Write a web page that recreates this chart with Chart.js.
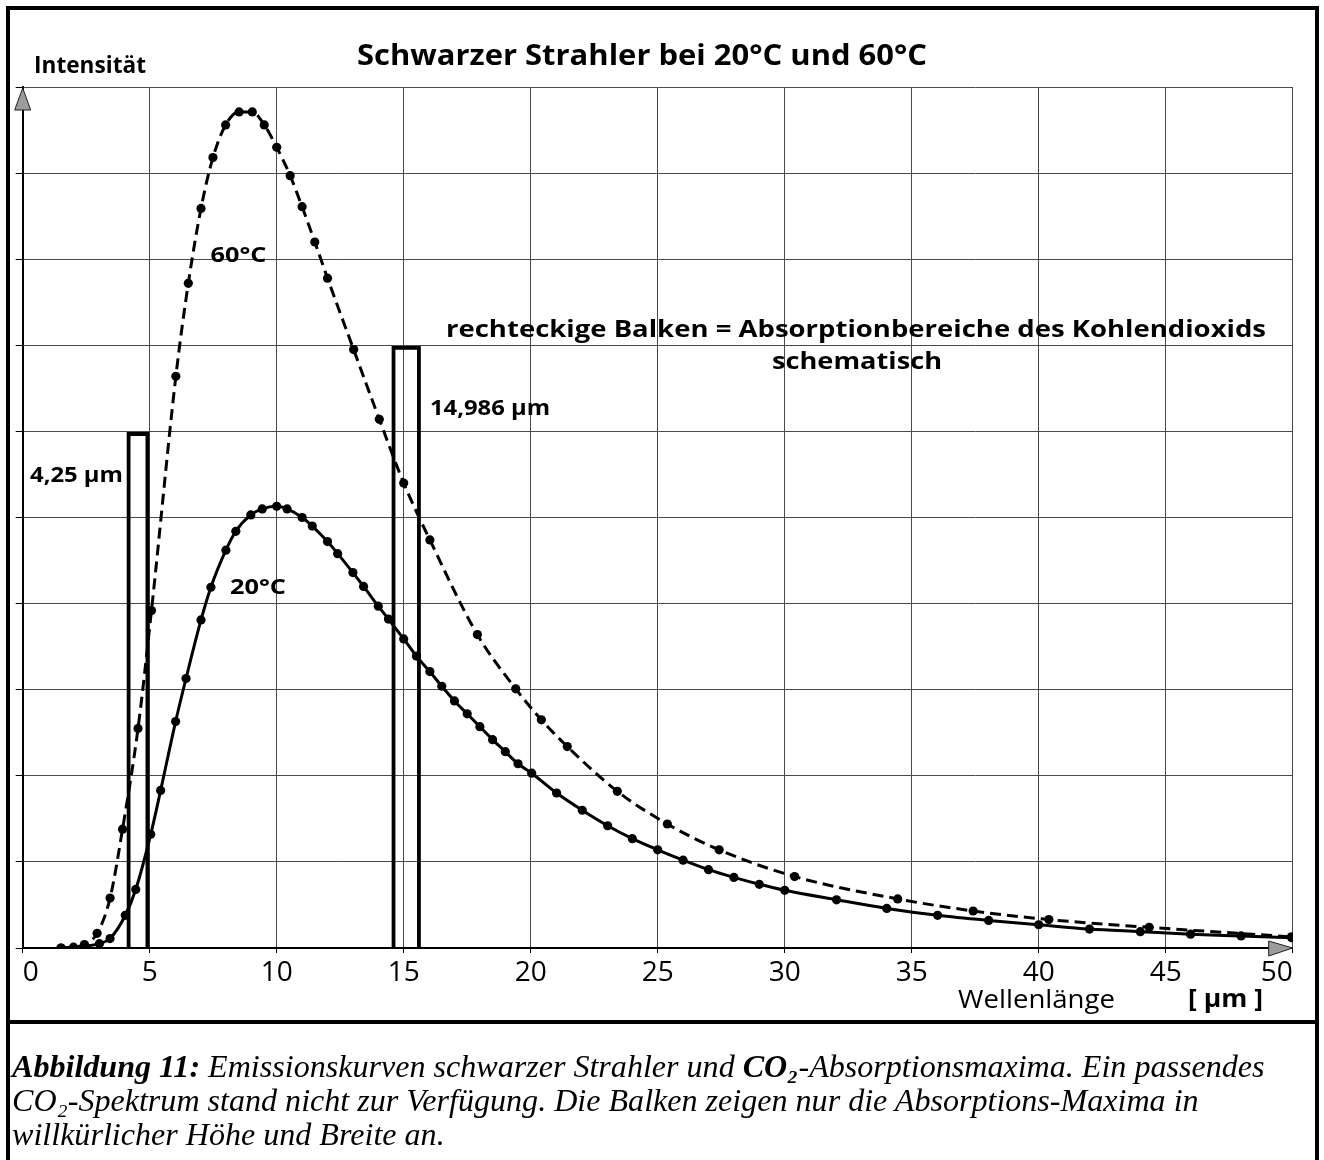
<!DOCTYPE html>
<html>
<head>
<meta charset="utf-8">
<script src="https://cdn.jsdelivr.net/npm/chart.js@4.4.0/dist/chart.umd.min.js"></script>
<style>
html, body { margin: 0; padding: 0; background: #fff; }
body { width: 1324px; height: 1160px; position: relative; overflow: hidden; }
#chart { position: absolute; left: 0; top: 0; }
#frame { position: absolute; left: 6px; top: 6px; width: 1305px; height: 1200px; border: 4px solid #000; }
#sep { position: absolute; left: 10px; top: 1020px; width: 1305px; height: 4px; background: #000; }
#caption { position: absolute; left: 12px; top: 1049px; font-family: "Liberation Serif", serif; font-style: italic; font-size: 27px; line-height: 34px; color: #000; white-space: nowrap; }
#caption div { display: block; }
</style>
</head>
<body>
<canvas id="chart" width="1324" height="1020"></canvas>
<div id="frame"></div>
<div id="sep"></div>
<div id="caption">
  <div id="cap1"><b>Abbildung 11:</b> Emissionskurven schwarzer Strahler und <b>CO₂</b>-Absorptionsmaxima. Ein passendes</div>
  <div>CO₂-Spektrum stand nicht zur Verfügung. Die Balken zeigen nur die Absorptions-Maxima in</div>
  <div>willkürlicher Höhe und Breite an.</div>
</div>
<script>
// 60°C curve (dashed), wavelength in µm and intensity in grid units
const wl60 = [1.5, 2.0, 2.43, 2.93, 3.44, 3.93, 4.54, 5.07, 6.03, 6.52, 7.02, 7.49, 7.99, 8.52, 9.04, 9.51,
  10.0, 10.53, 11.0, 11.5, 12.0, 13.03, 14.04, 15.0, 16.03, 17.9, 19.41, 20.42, 21.44, 23.41, 25.38,
  27.42, 30.39, 34.45, 37.42, 40.4, 44.35, 49.95];
const int60 = [0.0, 0.01, 0.04, 0.17, 0.58, 1.38, 2.55, 3.92, 6.64, 7.72, 8.59, 9.18, 9.56, 9.71, 9.71, 9.56,
  9.30, 8.97, 8.61, 8.20, 7.78, 6.95, 6.14, 5.40, 4.74, 3.64, 3.01, 2.65, 2.34, 1.82, 1.44,
  1.14, 0.83, 0.57, 0.43, 0.33, 0.24, 0.13];

// 20°C curve (solid)
const wl20 = [1.52, 2.0, 2.43, 3.02, 3.44, 4.04, 4.45, 5.04, 5.43, 6.02, 6.43, 7.02, 7.41, 8.0, 8.39, 8.98,
  9.43, 10.0, 10.41, 11.0, 11.4, 12.0, 12.4, 13.0, 13.42, 14.0, 14.4, 15.0, 15.5, 16.03, 16.5, 17.0,
  17.5, 18.0, 18.5, 19.0, 19.5, 20.04, 21.02, 22.03, 23.03, 24.0, 25.0, 26.0, 27.0, 28.0, 29.0, 30.0,
  32.04, 34.02, 36.02, 38.03, 40.0, 42.0, 44.0, 45.98, 47.97, 49.96];
const int20 = [0.0, 0.0, 0.02, 0.05, 0.11, 0.38, 0.68, 1.32, 1.83, 2.63, 3.13, 3.81, 4.19, 4.62, 4.84, 5.03,
  5.10, 5.13, 5.10, 5.0, 4.9, 4.72, 4.58, 4.36, 4.2, 3.97, 3.82, 3.59, 3.39, 3.21, 3.04, 2.87,
  2.72, 2.57, 2.42, 2.28, 2.14, 2.03, 1.80, 1.60, 1.42, 1.27, 1.14, 1.02, 0.91, 0.82, 0.74, 0.67,
  0.56, 0.46, 0.38, 0.32, 0.27, 0.22, 0.19, 0.16, 0.14, 0.12];

// CO2 absorption bars (schematic)
const bandLeft = [4.17, 14.6];
const bandRight = [4.91, 15.6];
const bandHeight = [5.97, 6.97];

const xTicks = [0, 5, 10, 15, 20, 25, 30, 35, 40, 45, 50];

const FONT = '"Open Sans", "Noto Sans", sans-serif';

const toPoints = (xs, ys) => xs.map((x, i) => ({ x: x, y: ys[i] }));

const bandDatasets = bandLeft.map((l, i) => ({
  data: [
    { x: l, y: 0 },
    { x: l, y: bandHeight[i] },
    { x: bandRight[i], y: bandHeight[i] },
    { x: bandRight[i], y: 0 },
  ],
  showLine: true,
  borderColor: "#000",
  borderWidth: 3.8,
  pointRadius: 0,
  tension: 0,
  borderJoinStyle: "miter",
}));

function fitText(ctx, text, left, baseline, width, font) {
  ctx.font = font;
  const w = ctx.measureText(text).width;
  ctx.save();
  ctx.translate(left, baseline);
  ctx.scale(width / w, 1);
  ctx.textAlign = "left";
  ctx.textBaseline = "alphabetic";
  ctx.fillText(text, 0, 0);
  ctx.restore();
}

const decor = {
  id: "decor",
  beforeDatasetsDraw(chart) {
    const ctx = chart.ctx;
    const xs = chart.scales.x, ys = chart.scales.y;
    const x0 = xs.getPixelForValue(0), yTop = ys.getPixelForValue(10);
    const xEnd = xs.getPixelForValue(50), y0 = ys.getPixelForValue(0);
    ctx.save();
    ctx.fillStyle = "#9c9c9c";
    ctx.strokeStyle = "#222";
    ctx.lineWidth = 1;
    ctx.beginPath();
    ctx.moveTo(x0, yTop + 1);
    ctx.lineTo(x0 - 8, yTop + 23);
    ctx.lineTo(x0 + 8, yTop + 23);
    ctx.closePath();
    ctx.fill();
    ctx.stroke();
    ctx.beginPath();
    ctx.moveTo(xEnd, y0);
    ctx.lineTo(xEnd - 24, y0 - 7);
    ctx.lineTo(xEnd - 24, y0 + 8);
    ctx.closePath();
    ctx.fill();
    ctx.stroke();
    ctx.restore();
  },
  afterDraw(chart) {
    const ctx = chart.ctx;
    ctx.save();
    ctx.fillStyle = "#000";
    fitText(ctx, "Schwarzer Strahler bei 20°C und 60°C", 357, 65, 570, "bold 28px " + FONT);
    fitText(ctx, "Intensität", 34, 72.5, 112, "bold 24px " + FONT);
    fitText(ctx, "60°C", 210.5, 261.5, 56, "bold 21px " + FONT);
    fitText(ctx, "20°C", 230, 594, 56, "bold 21px " + FONT);
    fitText(ctx, "4,25 µm", 30, 481.5, 93, "bold 21px " + FONT);
    fitText(ctx, "14,986 µm", 430, 415, 120, "bold 21px " + FONT);
    fitText(ctx, "rechteckige Balken = Absorptionbereiche des Kohlendioxids", 446, 337, 820, "bold 23px " + FONT);
    fitText(ctx, "schematisch", 772, 369, 170, "bold 23px " + FONT);
    fitText(ctx, "Wellenlänge", 958, 1008, 157, "26px " + FONT);
    fitText(ctx, "[ µm ]", 1188, 1007, 75, "bold 25px " + FONT);
    ctx.restore();
  },
};

new Chart(document.getElementById("chart"), {
  type: "scatter",
  data: {
    datasets: [
      {
        label: "60°C",
        data: toPoints(wl60, int60),
        showLine: true,
        borderColor: "#000",
        borderWidth: 3,
        borderDash: [11, 6],
        backgroundColor: "#000",
        pointBackgroundColor: "#000",
        pointBorderWidth: 0,
        pointRadius: 4.6,
        cubicInterpolationMode: "monotone",
      },
      {
        label: "20°C",
        data: toPoints(wl20, int20),
        showLine: true,
        borderColor: "#000",
        borderWidth: 3,
        backgroundColor: "#000",
        pointBackgroundColor: "#000",
        pointBorderWidth: 0,
        pointRadius: 4.6,
        cubicInterpolationMode: "monotone",
      },
      ...bandDatasets,
    ],
  },
  options: {
    responsive: false,
    animation: false,
    layout: { padding: { top: 87, right: 31.3, bottom: 0, left: 0 } },
    plugins: { legend: { display: false }, tooltip: { enabled: false } },
    scales: {
      x: {
        type: "linear",
        min: 0,
        max: 50,
        afterBuildTicks: (scale) => { scale.ticks = xTicks.map((v) => ({ value: v })); },
        afterFit: (scale) => { scale.height = 72; },
        grid: { color: "#4a4a4a", lineWidth: 1, tickLength: 5, tickColor: "#000" },
        border: { display: true, color: "#000", width: 2 },
        ticks: {
          align: "inner",
          color: "#000",
          padding: 4,
          maxRotation: 0,
          font: { family: FONT, size: 28, lineHeight: 1.15 },
        },
      },
      y: {
        min: 0,
        max: 10,
        afterFit: (scale) => { scale.width = 22.7; },
        grid: { color: "#4a4a4a", lineWidth: 1, tickLength: 7, tickColor: "#000" },
        border: { display: true, color: "#000", width: 2 },
        ticks: { stepSize: 1, display: false },
      },
    },
  },
  plugins: [decor],
});

// fit caption first line to the reference width
const cap = document.getElementById("caption");
const w1 = document.getElementById("cap1").getBoundingClientRect().width;
cap.style.fontSize = (27 * 1253 / w1).toFixed(2) + "px";
</script>
</body>
</html>
